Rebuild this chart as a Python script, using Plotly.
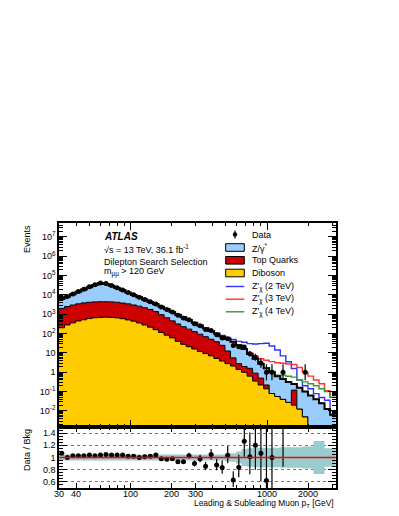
import numpy as np
import plotly.graph_objects as go

FONT = "Liberation Sans, Arial, sans-serif"

# log-spaced pT bins, 30 GeV -> ~3.2 TeV
N_BINS = 50
bin_edges = 30 * 10 ** (0.0405 * np.arange(N_BINS + 1))
bin_centers = np.sqrt(bin_edges[:-1] * bin_edges[1:])

# background components (events per bin)
zgamma = [4310, 5820, 7960, 10980, 15160, 20950, 27990, 35340, 32680, 25140,
          18740, 13580, 9710, 6980, 4960, 3560, 2590, 1930, 1495, 1160,
          863, 639, 463, 331, 237, 170, 122, 87, 62, 47,
          39.4, 32.4, 22.2, 13.8, 7.3, 4.1, 2.3, 1.38, 0.92, 0.57,
          0.41, 0.29, 0.13, 0.147, 0.095, 0.063, 0.040, 0.025, 0.0126, 0.0063]
top_quarks = [1800, 2220, 2640, 3020, 3370, 3570, 3710, 3780, 3760, 3680,
              3520, 3210, 2960, 2580, 2275, 1910, 1565, 1220, 840, 577,
              397, 276, 201, 149, 110, 81, 60, 44, 33, 21,
              9.8, 3.5, 1.4, 1.0, 0.97, 0.55, 0.28, 0.08, 0, 0,
              0, 0, 0.10, 0, 0, 0, 0, 0, 0, 0]
diboson = [200, 280, 360, 450, 520, 600, 660, 690, 710, 690,
           650, 590, 510, 440, 355, 280, 215, 160, 115, 83,
           60, 40, 28, 21, 16, 12, 9.3, 7.1, 5.2, 3.8,
           2.8, 2.1, 1.4, 1.0, 0.63, 0.35, 0.22, 0.14, 0.08, 0.056,
           0.04, 0.028, 0.02, 0.0126, 0.005, 0, 0, 0, 0, 0]

# Z'_chi signal contributions (added on top of the background)
zprime_2tev = [0] * 28 + [3, 7.4, 11, 12, 14.8, 19.7, 21.3, 23.8, 27.4, 30,
                          21.9, 13.5, 6.6, 3.2, 1.33, 0.24, 0.10, 0.078, 0.039, 0.025,
                          0.023, 0.004]
zprime_3tev = [0] * 34 + [1.1, 1.8, 2.2, 2.6, 2.55, 2.5, 2.5, 2.37, 2.26, 1.62,
                          0.9, 0.57, 0.36, 0.23, 0.10, 0.044]
zprime_4tev = [0] * 37 + [0.1, 0.12, 0.077, 0.26, 0.31, 0.31, 0.24, 0.22, 0.19, 0.16,
                          0.116, 0.087, 0.044]

data_counts = [6750, 8320, 11290, 14880, 19620, 26120, 33330, 41400, 39010, 30690,
               23830, 18080, 13440, 10200, 7590, 5810, 4460, 3440, 2400, 1765,
               1294, 888, 644, 516, 327, 258, 164, 145, 88, 60,
               54, 24, 21, 20, 9, 6, 3, 1, 1, 0,
               1, 0, 0, 0, 1, 0, 0, 0, 0, 0]

# relative uncertainty on the background (ratio band half width)
bkg_uncert = [0.05] * 30 + [0.06, 0.07, 0.10, 0.14, 0.15, 0.16, 0.16, 0.16, 0.16, 0.16,
                            0.17, 0.17, 0.17, 0.17, 0.18, 0.18, 0.27, 0.27, 0.15, 0.15]

ratio_xticks = [30, 40, 100, 200, 300, 1000, 2000]

COL_Z = "#99ccff"
COL_TOP = "#cc0000"
COL_DIB = "#ffcc00"
COL_BAND = "#99cccc"
SIG_COLORS = ["#3333ff", "#ff3333", "#339933"]
FLOOR = 1e-6

s_dib = np.array(diboson, float)
s_top = s_dib + np.array(top_quarks, float)
s_tot = s_top + np.array(zgamma, float)


def steps(values):
    y = np.maximum(np.asarray(values, float), FLOOR)
    return bin_edges, np.append(y, y[-1])


fig = go.Figure()

# stacked backgrounds
xs, ys = steps(np.zeros(N_BINS))
fig.add_trace(go.Scatter(x=xs, y=ys, mode="lines", line=dict(width=0, shape="hv"),
                         hoverinfo="skip"))
for vals, col in [(s_dib, COL_DIB), (s_top, COL_TOP), (s_tot, COL_Z)]:
    xs, ys = steps(vals)
    fig.add_trace(go.Scatter(x=xs, y=ys, mode="lines", fill="tonexty", fillcolor=col,
                             line=dict(color="black", width=1, shape="hv")))

# signal hypotheses
for sig, col in zip([zprime_2tev, zprime_3tev, zprime_4tev], SIG_COLORS):
    xs, ys = steps(s_tot + np.array(sig, float))
    fig.add_trace(go.Scatter(x=xs, y=ys, mode="lines",
                             line=dict(color=col, width=1.4, shape="hv")))

# total background outline on top
xs, ys = steps(s_tot)
fig.add_trace(go.Scatter(x=xs, y=ys, mode="lines",
                         line=dict(color="black", width=2, shape="hv")))

# data
n = np.array(data_counts, float)
mask = n > 0
err_up = np.sqrt(n + 0.25) + 0.5
err_dn = np.sqrt(n + 0.25) - 0.5
fig.add_trace(go.Scatter(
    x=bin_centers[mask], y=n[mask], mode="markers",
    marker=dict(color="black", size=5),
    error_y=dict(type="data", symmetric=False, array=err_up[mask], arrayminus=err_dn[mask],
                 color="black", thickness=1.2, width=0)))

# ratio panel: uncertainty band
band = np.array(bkg_uncert)
xs, ys = steps(1 - band)
fig.add_trace(go.Scatter(x=xs, y=ys, mode="lines", line=dict(width=0, shape="hv"),
                         xaxis="x2", yaxis="y2"))
xs, ys = steps(1 + band)
fig.add_trace(go.Scatter(x=xs, y=ys, mode="lines", line=dict(width=0, shape="hv"),
                         fill="tonexty", fillcolor=COL_BAND, xaxis="x2", yaxis="y2"))

ratio = n / s_tot
fig.add_trace(go.Scatter(
    x=bin_centers[mask], y=ratio[mask], mode="markers", xaxis="x2", yaxis="y2",
    marker=dict(color="black", size=5),
    error_y=dict(type="data", symmetric=False, array=(err_up / s_tot)[mask],
                 arrayminus=(err_dn / s_tot)[mask], color="black", thickness=1.2, width=0)))

axis_common = dict(showline=True, linecolor="black", linewidth=1.5, mirror="allticks",
                   ticks="inside", tickcolor="black", tickwidth=1, zeroline=False,
                   showgrid=False, tickfont=dict(family=FONT, size=9, color="black"))
x_minor = dict(ticks="inside", ticklen=3, dtick="D1", tickcolor="black", tickwidth=1)
x_range = [np.log10(30), np.log10(3200)]
RATIO_TOP = (488 - 427) / 265

# the page body has an 8 px margin, so the figure is shrunk by 8 px on each axis
fig.update_layout(
    width=391, height=508,
    margin=dict(l=51, r=63, t=215, b=28),
    plot_bgcolor="white", paper_bgcolor="white",
    showlegend=False,
    font=dict(family=FONT, size=9, color="black"),
    xaxis=dict(axis_common, type="log", range=x_range, domain=[0, 1], anchor="y",
               showticklabels=False, tickvals=[100, 1000], ticklen=7, minor=x_minor),
    yaxis=dict(axis_common, type="log", range=[-2.83, 7.72], domain=[RATIO_TOP, 1],
               anchor="x",
               tickvals=[1e-2, 1e-1, 1, 10, 1e2, 1e3, 1e4, 1e5, 1e6, 1e7],
               ticktext=["10<sup>-2</sup>", "10<sup>-1</sup>", "1", "10", "10<sup>2</sup>",
                         "10<sup>3</sup>", "10<sup>4</sup>", "10<sup>5</sup>",
                         "10<sup>6</sup>", "10<sup>7</sup>"],
               ticklen=8,
               minor=dict(ticks="inside", ticklen=4, dtick="D1", tickcolor="black", tickwidth=1)),
    xaxis2=dict(axis_common, type="log", range=x_range, domain=[0, 1], anchor="y2",
                tickvals=ratio_xticks, showticklabels=False,
                ticklen=5, minor=x_minor),
    yaxis2=dict(axis_common, range=[0.5, 1.5], domain=[0, RATIO_TOP], anchor="x2",
                tickvals=[0.6, 0.8, 1, 1.2, 1.4], ticktext=["0.6", "0.8", "1", "1.2", "1.4"],
                ticklen=8, showgrid=True, gridcolor="#777777", griddash="dot", gridwidth=1,
                minor=dict(ticks="inside", ticklen=4, dtick=0.05, tickcolor="black", tickwidth=1)),
)

# red reference line at 1
fig.add_shape(type="line", xref="x2 domain", yref="y2", x0=0, x1=1, y0=1, y1=1,
              line=dict(color="#ff0000", width=1.5))


def px_x(px):
    return (px - 59) / 277


def px_y(py):
    return (488 - py) / 265


def label(text, px, py, size=9, **kw):
    fig.add_annotation(text=text, x=px_x(px), y=px_y(py), xref="paper", yref="paper",
                       showarrow=False, xanchor=kw.pop("xanchor", "left"),
                       yanchor=kw.pop("yanchor", "middle"),
                       font=dict(family=FONT, size=size, color="black"), **kw)


# ratio x tick labels, placed tight under the axis like ROOT does
for v in ratio_xticks:
    fig.add_annotation(text=str(v), x=np.log10(v), xref="x2", y=px_y(493.5), yref="paper",
                       showarrow=False, xanchor="center", yanchor="middle",
                       font=dict(family=FONT, size=9, color="black"))

# ATLAS labels
label("<b><i>ATLAS</i></b>", 102, 236, size=10)
label("√s = 13 TeV, 36.1 fb<sup>-1</sup>", 102, 249)
label("Dilepton Search Selection", 102, 261.5)
label("m<sub>μμ</sub> &gt; 120 GeV", 102, 272)

# axis titles
label("Events", 27, 223, textangle=-90, xanchor="center", yanchor="top")
label("Data / Bkg", 27, 427, textangle=-90, xanchor="center", yanchor="top")
label("Leading &amp; Subleading Muon p<sub>T</sub> [GeV]", 336, 503.5, size=8.4,
      xanchor="right")

# hand-drawn legend
LEG_X0, LEG_X1, LEG_TXT = 225.7, 244.3, 249.5
legend_rows = [("Data", "data", None), ("Z/γ<sup>*</sup>", "box", COL_Z),
               ("Top Quarks", "box", COL_TOP), ("Diboson", "box", COL_DIB),
               ("Z'<sub>χ</sub> (2 TeV)", "line", SIG_COLORS[0]),
               ("Z'<sub>χ</sub> (3 TeV)", "line", SIG_COLORS[1]),
               ("Z'<sub>χ</sub> (4 TeV)", "line", SIG_COLORS[2])]
row_y = [234.5, 247.5, 260.3, 273, 286.5, 299.2, 311.8]
for (txt, kind, col), yy in zip(legend_rows, row_y):
    if kind == "data":
        xc = (LEG_X0 + LEG_X1) / 2
        fig.add_shape(type="line", xref="paper", yref="paper", x0=px_x(xc), x1=px_x(xc),
                      y0=px_y(yy - 4), y1=px_y(yy + 4), line=dict(color="black", width=1.2))
        fig.add_shape(type="circle", xref="paper", yref="paper", x0=px_x(xc - 2.2),
                      x1=px_x(xc + 2.2), y0=px_y(yy + 2.2), y1=px_y(yy - 2.2),
                      fillcolor="black", line=dict(color="black", width=0))
    elif kind == "box":
        fig.add_shape(type="rect", xref="paper", yref="paper", x0=px_x(LEG_X0),
                      x1=px_x(LEG_X1), y0=px_y(yy + 3.8), y1=px_y(yy - 3.8),
                      fillcolor=col, line=dict(color="black", width=1))
    else:
        fig.add_shape(type="line", xref="paper", yref="paper", x0=px_x(LEG_X0),
                      x1=px_x(LEG_X1), y0=px_y(yy), y1=px_y(yy),
                      line=dict(color=col, width=1.4))
    label(txt, LEG_TXT, yy)

fig.write_html("out.html")
